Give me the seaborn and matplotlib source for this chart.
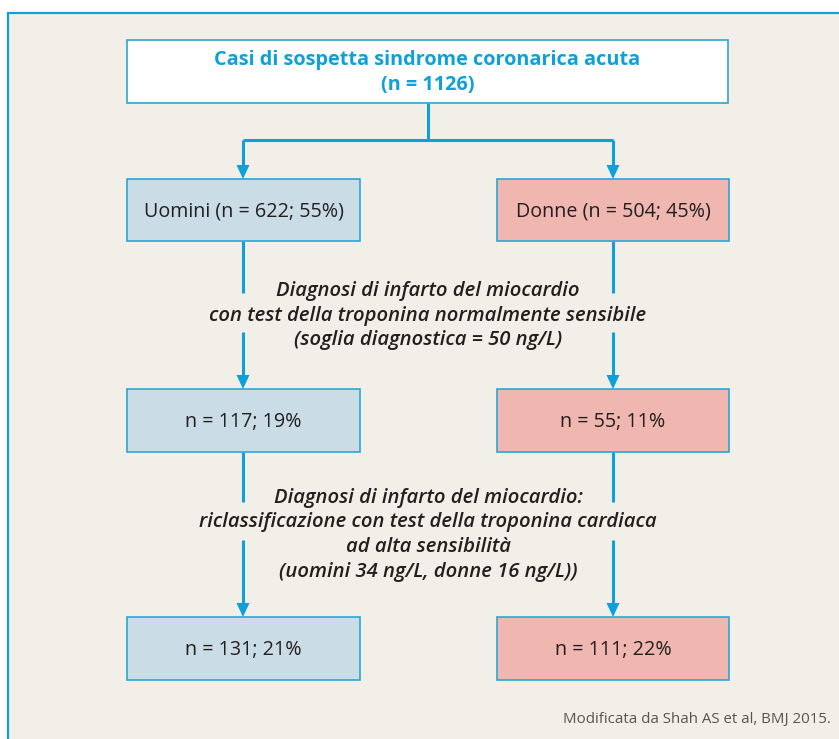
"""Flowchart: diagnosi di infarto del miocardio per sesso (Shah AS et al, BMJ 2015)."""

import matplotlib.pyplot as plt
import seaborn as sns
from matplotlib.patches import Rectangle, Polygon

sns.set_theme(style="white")
plt.rcParams["font.family"] = ["Open Sans", "DejaVu Sans"]

# data
TOTAL_LABEL = "Casi di sospetta sindrome coronarica acuta"
TOTAL_N = 1126
GROUPS = ["Uomini", "Donne"]
N_GROUP = [622, 504]
PCT_GROUP = [55, 45]
N_STANDARD = [117, 55]
PCT_STANDARD = [19, 11]
N_HIGH_SENS = [131, 111]
PCT_HIGH_SENS = [21, 22]
STEP1_TEXT = [
    "Diagnosi di infarto del miocardio",
    "con test della troponina normalmente sensibile",
    "(soglia diagnostica = 50 ng/L)",
]
STEP2_TEXT = [
    "Diagnosi di infarto del miocardio:",
    "riclassificazione con test della troponina cardiaca",
    "ad alta sensibilità",
    "(uomini 34 ng/L, donne 16 ng/L))",
]
SOURCE = "Modificata da Shah AS et al, BMJ 2015."

BLUE = "#0ea1d9"
BG = "#f2efe8"
FILLS = ["#cadde7", "#f0b6b0"]
DARK = "#231f20"

fig = plt.figure(figsize=(8.39, 7.39), dpi=100)
fig.patch.set_facecolor("white")
ax = fig.add_axes([0, 0, 1, 1])
ax.set_xlim(0, 839)
ax.set_ylim(739, 0)
ax.axis("off")

# panel background with top/left border
ax.add_patch(Rectangle((8, 12.5), 840, 740, facecolor=BG, edgecolor="none", zorder=0))
ax.plot([8, 8], [12.5, 745], color=BLUE, lw=1.6, zorder=1)
ax.plot([8, 845], [12.5, 12.5], color=BLUE, lw=1.6, zorder=1)


def box(x0, y0, x1, y1, fill, text, **kw):
    ax.add_patch(Rectangle((x0, y0), x1 - x0, y1 - y0, facecolor=fill,
                           edgecolor="#2aa6d6", lw=1.2, zorder=3))
    ax.text((x0 + x1) / 2, (y0 + y1) / 2 + 1, text, ha="center", va="center",
            zorder=4, **kw)


def arrow_line(x, y0, y1):
    ax.plot([x, x], [y0, y1 - 12], color=BLUE, lw=2.2, solid_capstyle="butt", zorder=2)
    ax.add_patch(Polygon([[x - 6.5, y1 - 14], [x + 6.5, y1 - 14], [x, y1]],
                         closed=True, facecolor=BLUE, edgecolor="none", zorder=2))


def line(xs, ys):
    ax.plot(xs, ys, color=BLUE, lw=2.2, solid_capstyle="butt",
            solid_joinstyle="miter", zorder=2)


# top box
box(127, 40, 728, 103, "white", f"{TOTAL_LABEL}\n(n = {TOTAL_N})",
    color=BLUE, fontsize=14.3, fontweight="bold", linespacing=1.3)

centers = [243, 613]
lefts = [127, 497]
rights = [360, 729]

line([428, 428], [103, 140])
line([centers[0], centers[1]], [140, 140])
for cx in centers:
    line([cx, cx], [140, 165])
    arrow_line(cx, 160, 179)

rows = [
    (179, 241, [f"{g} (n = {n}; {p}%)" for g, n, p in zip(GROUPS, N_GROUP, PCT_GROUP)]),
    (389, 452, [f"n = {n}; {p}%" for n, p in zip(N_STANDARD, PCT_STANDARD)]),
    (617, 680, [f"n = {n}; {p}%" for n, p in zip(N_HIGH_SENS, PCT_HIGH_SENS)]),
]
for i, (y0, y1, labels) in enumerate(rows):
    for j in range(2):
        box(lefts[j], y0, rights[j], y1, FILLS[j], labels[j],
            color=DARK, fontsize=14.2)

# connectors between rows, broken around the annotation text
for cx in centers:
    line([cx, cx], [241, 293])
    arrow_line(cx, 332, 389)
    line([cx, cx], [452, 502])
    arrow_line(cx, 540, 617)

for k, txt in enumerate(STEP1_TEXT):
    ax.text(428, 291 + k * 24.5, txt, ha="center", va="center", color=DARK,
            fontsize=14.6, fontstyle="italic", fontweight="semibold", zorder=4)
for k, txt in enumerate(STEP2_TEXT):
    ax.text(428, 498 + k * 24.5, txt, ha="center", va="center", color=DARK,
            fontsize=14.6, fontstyle="italic", fontweight="semibold", zorder=4)

ax.text(831, 720, SOURCE, ha="right", va="center", color="#555555", fontsize=10.8)

fig.savefig("out.png", dpi=100, facecolor="white")
